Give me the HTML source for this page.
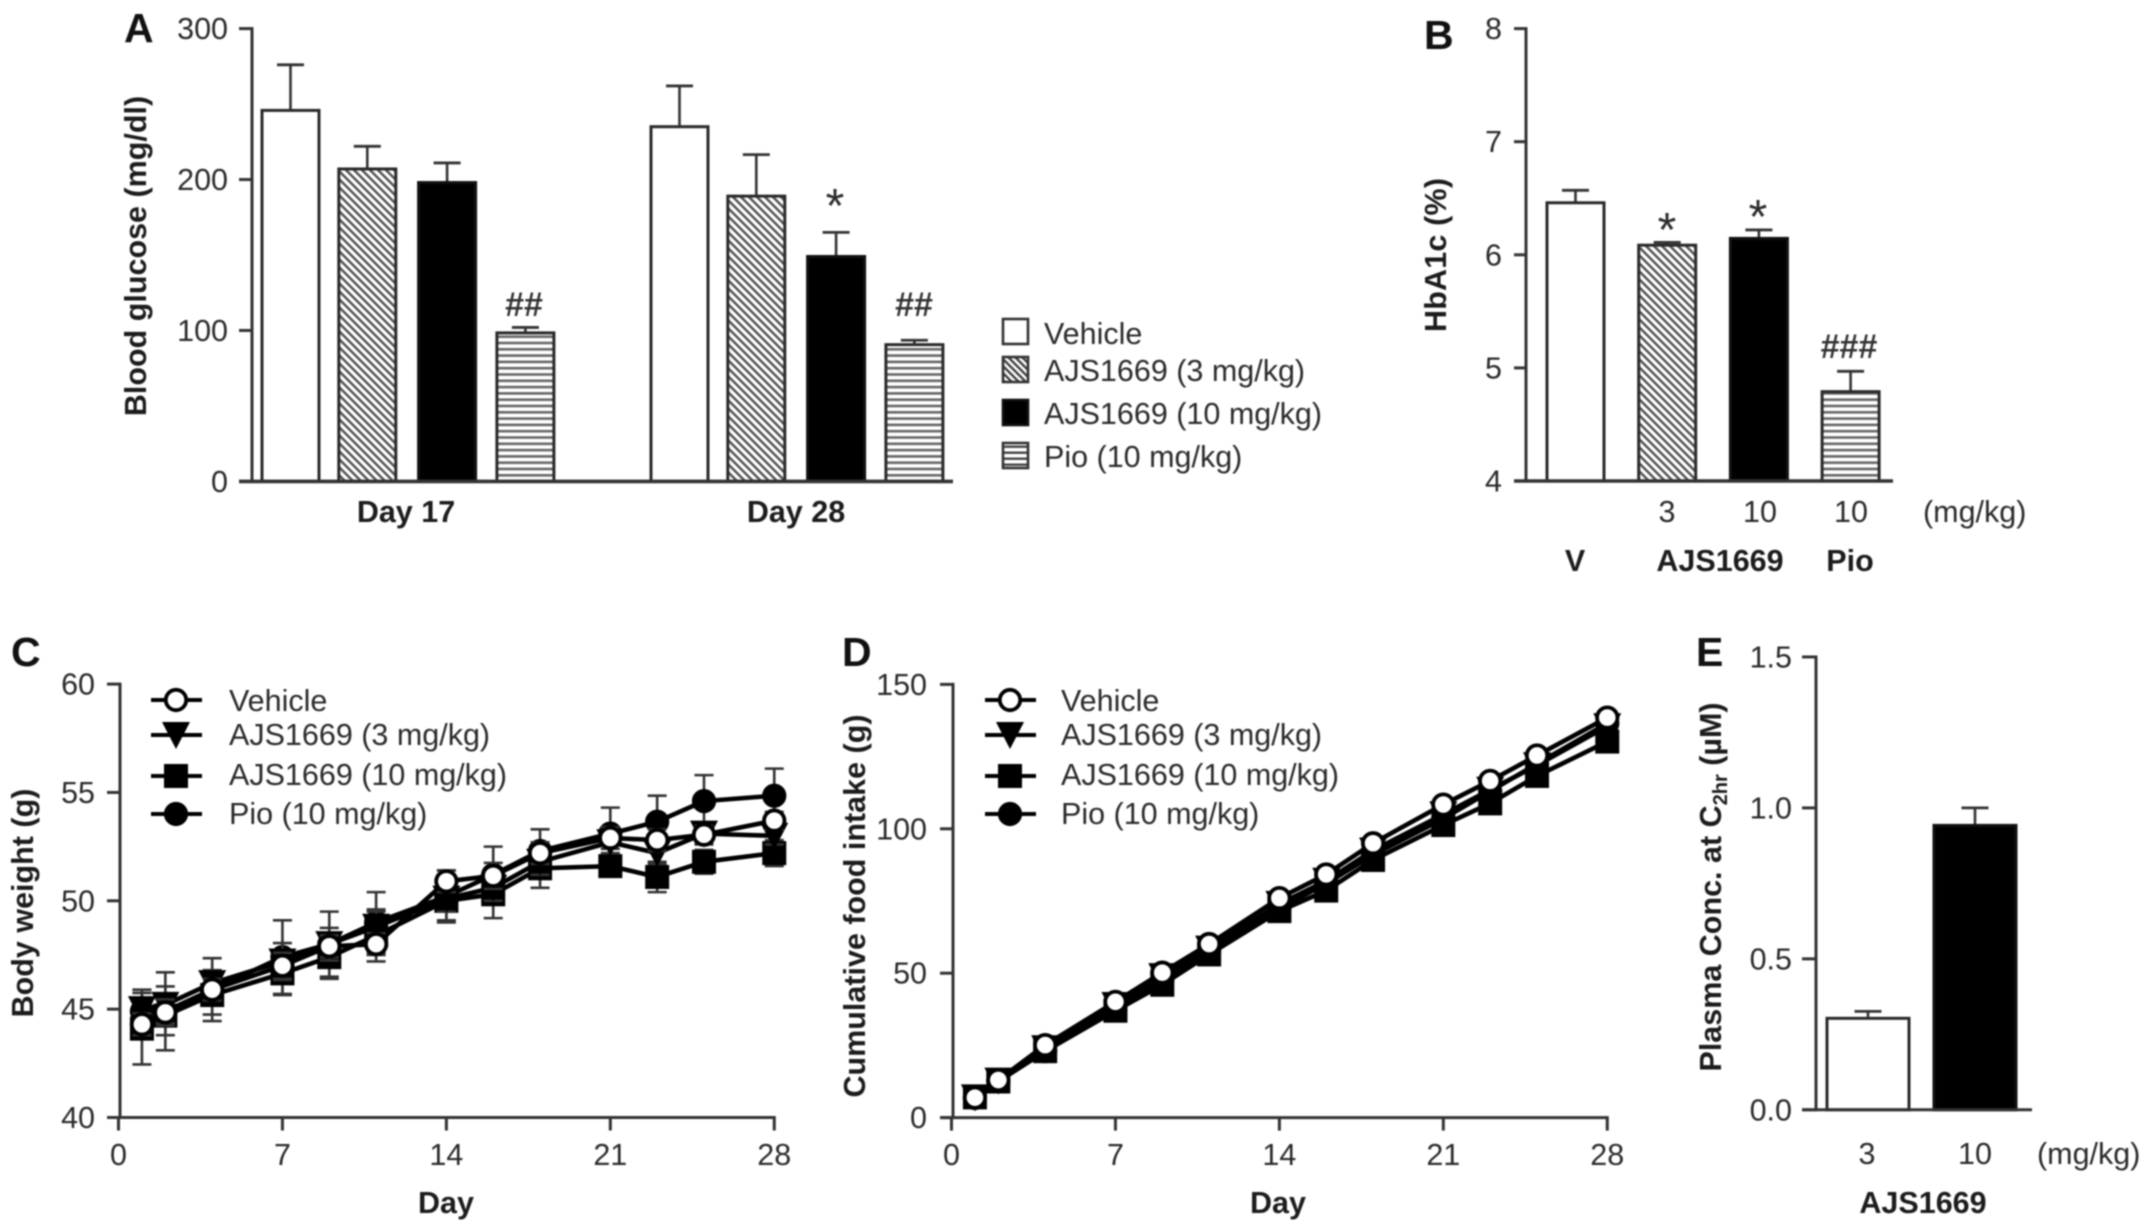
<!DOCTYPE html>
<html lang="en">
<head>
<meta charset="utf-8">
<title>AJS1669 study figure</title>
<style>
html,body{margin:0;padding:0;background:#fff;width:2150px;height:1232px;overflow:hidden}
svg{display:block;filter:blur(.7px)}
text{font-family:"Liberation Sans",sans-serif;font-size:30.5px;fill:#2b2b2b}
.b{font-weight:700;fill:#1c1c1c}
.letter{font-weight:700;font-size:41px;fill:#111}
.mark{font-size:34px;font-weight:700;fill:#333}
</style>
</head>
<body>
<svg id="fig" width="2150" height="1232" viewBox="0 0 2150 1232" xmlns="http://www.w3.org/2000/svg">
<defs>
<pattern id="diag" patternUnits="userSpaceOnUse" width="8" height="8">
<rect width="8" height="8" fill="#fff"/>
<path d="M-2,-2L10,10M-2,6L2,10M6,-2L10,2" stroke="#555" stroke-width="2.5"/>
</pattern>
<pattern id="horiz" patternUnits="userSpaceOnUse" width="6.3" height="6.3">
<rect width="6.3" height="6.3" fill="#fff"/>
<rect y="1.5" width="6.3" height="2.6" fill="#666"/>
</pattern>
<pattern id="diagL" patternUnits="userSpaceOnUse" width="7" height="7">
<rect width="7" height="7" fill="#fff"/>
<path d="M-2,-2L9,9M-2,5L2,9M5,-2L9,2" stroke="#444" stroke-width="2.4"/>
</pattern>
<pattern id="horizL" patternUnits="userSpaceOnUse" width="6" height="6">
<rect width="6" height="6" fill="#fff"/>
<rect y="1.5" width="6" height="2.4" fill="#444"/>
</pattern>
</defs>

<text class="letter" x="124" y="42">A</text>
<text class="letter" x="1424" y="49">B</text>
<text class="letter" x="11" y="666">C</text>
<text class="letter" x="842" y="666">D</text>
<text class="letter" x="1696" y="666">E</text>

<text class="b" transform="translate(146,256) rotate(-90)" text-anchor="middle">Blood glucose (mg/dl)</text>
<text class="b" x="406" y="522" text-anchor="middle">Day 17</text>
<text class="b" x="796" y="522" text-anchor="middle">Day 28</text>
<text class="mark" x="524" y="316" text-anchor="middle">##</text>
<text class="mark" x="914" y="316" text-anchor="middle">##</text>
<text x="835" y="222" text-anchor="middle" style="font-size:48px">*</text>

<g>
<rect x="1003" y="319" width="25" height="25" fill="#fff" stroke="#333" stroke-width="2.6"/>
<text x="1044" y="344">Vehicle</text>
<rect x="1003" y="357" width="25" height="25" fill="url(#diagL)" stroke="#333" stroke-width="2.6"/>
<text x="1044" y="381">AJS1669 (3 mg/kg)</text>
<rect x="1003" y="400" width="25" height="25" fill="#000" stroke="#111" stroke-width="2.6"/>
<text x="1044" y="424">AJS1669 (10 mg/kg)</text>
<rect x="1003" y="443" width="25" height="25" fill="url(#horizL)" stroke="#333" stroke-width="2.6"/>
<text x="1044" y="467">Pio (10 mg/kg)</text>
</g>

<text class="b" transform="translate(1446,255) rotate(-90)" text-anchor="middle" textLength="154">HbA1c (%)</text>
<text x="1667" y="522" text-anchor="middle">3</text>
<text x="1760" y="522" text-anchor="middle">10</text>
<text x="1851" y="522" text-anchor="middle">10</text>
<text x="1923" y="522">(mg/kg)</text>
<text class="b" x="1575" y="571" text-anchor="middle">V</text>
<text class="b" x="1720" y="571" text-anchor="middle">AJS1669</text>
<text class="b" x="1850" y="571" text-anchor="middle">Pio</text>
<text x="1667" y="246" text-anchor="middle" style="font-size:48px">*</text>
<text x="1758" y="233" text-anchor="middle" style="font-size:48px">*</text>
<text class="mark" x="1849" y="358" text-anchor="middle">###</text>

<text class="b" transform="translate(33,903) rotate(-90)" text-anchor="middle">Body weight (g)</text>
<text class="b" x="446" y="1213" text-anchor="middle">Day</text>
<text class="b" transform="translate(865,906) rotate(-90)" text-anchor="middle">Cumulative food intake (g)</text>
<text class="b" x="1278" y="1213" text-anchor="middle">Day</text>

<text x="229" y="711">Vehicle</text>
<text x="229" y="745">AJS1669 (3 mg/kg)</text>
<text x="229" y="785">AJS1669 (10 mg/kg)</text>
<text x="229" y="824">Pio (10 mg/kg)</text>
<text x="1061" y="711">Vehicle</text>
<text x="1061" y="745">AJS1669 (3 mg/kg)</text>
<text x="1061" y="785">AJS1669 (10 mg/kg)</text>
<text x="1061" y="824">Pio (10 mg/kg)</text>

<text class="b" transform="translate(1721,887) rotate(-90)" text-anchor="middle">Plasma Conc. at C<tspan dy="6" style="font-size:20px">2hr</tspan><tspan dy="-6"> (µM)</tspan></text>
<text x="1867" y="1164" text-anchor="middle">3</text>
<text x="1975" y="1164" text-anchor="middle">10</text>
<text x="2037" y="1164">(mg/kg)</text>
<text class="b" x="1923" y="1213" text-anchor="middle">AJS1669</text>
</svg>

<script>
// ---- Panel A data
const aGroups = ['Day 17', 'Day 28'];
const aTreatments = ['vehicle', '3mg', '10mg', 'pio'];
const aMeans = [[245.8, 207, 198, 98.4], [235, 189, 149, 90.6]];
const aUpper = [[276, 222, 211, 102], [262, 216.5, 165, 93.5]];
const aTicks = [0, 100, 200, 300];
// ---- Panel B data
const bTreatments = ['vehicle', '3mg', '10mg', 'pio'];
const bMeans = [6.46, 6.085, 6.145, 4.79];
const bUpper = [6.57, 6.11, 6.22, 4.97];
const bTicks = [4, 5, 6, 7, 8];
// ---- Panel C / D shared
const days = [1, 2, 4, 7, 9, 11, 14, 16, 18, 21, 23, 25, 28];
const dayTicks = [0, 7, 14, 21, 28];
// ---- Panel C data
const cTicks = [40, 45, 50, 55, 60];
const cPio = [44.9, 44.9, 45.9, 47.4, 48, 49, 50.2, 51.2, 52.3, 53.1, 53.65, 54.6, 54.85];
const cPioErr = [0.5, 1.8, 1.45, 1.7, 1.5, 1.4, 1.2, 1.3, 1, 1.2, 1.2, 1.2, 1.25];
const c10mg = [44.1, 44.7, 45.65, 46.65, 47.4, 48.4, 50, 50.3, 51.5, 51.6, 51.1, 51.8, 52.2];
const c10mgErr = [1.65, 0.9, 0.9, 1, 1, 1.2, 0.9, 1.1, 0.9, 0.4, 0.7, 0.55, 0.6];
const c3mg = [45, 45.2, 46.2, 47.2, 48, 48.8, 50.1, 50.6, 51.8, 52.7, 52.2, 53.1, 53];
const c3mgErr = [0.9, 0.85, 0.6, 0.85, 0.75, 0.7, 0.6, 0.6, 0.6, 0.5, 0.5, 0.5, 0.4];
const cVehicle = [44.3, 44.85, 45.9, 47, 47.9, 48, 50.9, 51.15, 52.2, 52.9, 52.8, 53.05, 53.7];
const cVehicleErr = [0.5, 0.6, 0.5, 0.6, 0.5, 0.5, 0.5, 0.6, 0.5, 0.5, 0.5, 0.4, 0.4];
// ---- Panel D data
const dTicks = [0, 50, 100, 150];
const dPio = [6.8, 12.6, 23, 37.5, 47.5, 57.5, 72.5, 81, 91, 103.5, 113, 122.5, 136.5];
const d10mg = [7, 12.5, 23, 37, 46, 56.5, 71.5, 78.6, 89.2, 101.3, 108.8, 118.3, 130.2];
const d3mg = [7, 12.8, 24, 39, 49, 58.5, 74, 82, 92.5, 105, 113.5, 122, 135.5];
const dVehicle = [6.9, 13, 25.1, 40.1, 50.2, 60.1, 76, 84.2, 95, 108.4, 116.6, 125.4, 138.5];
// ---- Panel E data
const eDoses = ['3mg', '10mg'];
const eMeans = [0.303, 0.942];
const eUpper = [0.326, 1.0];
const eTicks = ['0.0', '0.5', '1.0', '1.5'];

const NS = 'http://www.w3.org/2000/svg';
const fig = document.getElementById('fig');
const AXIS = '#333';
const fills = {vehicle: '#fff', '3mg': 'url(#diag)', '10mg': '#000', pio: 'url(#horiz)'};

function add(parent, tag, attrs) {
  const n = document.createElementNS(NS, tag);
  for (const k in attrs) n.setAttribute(k, attrs[k]);
  parent.appendChild(n);
  return n;
}
function group(name) {
  const g = add(fig, 'g', {});
  
  
  return g;
}
function line(parent, name, x1, y1, x2, y2, w, col) {
  const l = add(parent, 'line', {x1: x1, y1: y1, x2: x2, y2: y2, stroke: col || AXIS, 'stroke-width': w});
  
  
  return l;
}
function yAxis(g, prefix, ticks, yf, axisX, tickL, labelX) {
  const top = Math.min.apply(null, ticks.map(function (t) { return yf(parseFloat(t)); }));
  const bot = Math.max.apply(null, ticks.map(function (t) { return yf(parseFloat(t)); }));
  line(g, prefix + '-y-axis-line', axisX, top - 1.5, axisX, bot + 1.5, 3);
  ticks.forEach(function (t) {
    const y = yf(parseFloat(t));
    line(g, prefix + '-y-tick-' + t, tickL, y, axisX, y, 3);
    const lb = add(g, 'text', {x: labelX, y: y + 10.5, 'text-anchor': 'end'});
    
    
    lb.textContent = t;
  });
}
function bar(g, name, x, w, yTop, yBase, yErr, fill) {
  const cx = x + w / 2;
  line(g, name + '-error-stem', cx, yTop, cx, yErr, 2.6);
  line(g, name + '-error-cap', cx - 13.5, yErr, cx + 13.5, yErr, 2.8);
  const r = add(g, 'rect', {x: x, y: yTop, width: w, height: yBase - yTop, fill: fill, stroke: fill === '#000' ? '#111' : '#2a2a2a', 'stroke-width': 3});
  
  
}
function marker(g, name, kind, x, y) {
  let m;
  if (kind === 'circle-open' || kind === 'circle-fill') {
    m = add(g, 'circle', {cx: x, cy: y, r: 10.2, fill: kind === 'circle-open' ? '#fff' : '#000', stroke: '#000', 'stroke-width': 3.8});
  } else if (kind === 'square') {
    m = add(g, 'rect', {x: x - 12, y: y - 12, width: 24, height: 24, fill: '#000'});
  } else {
    m = add(g, 'polygon', {points: (x - 14) + ',' + (y - 13) + ' ' + (x + 14) + ',' + (y - 13) + ' ' + x + ',' + (y + 14), fill: '#000'});
  }
  
  
}
function series(g, name, kind, vals, errs, xf, yf) {
  const pl = add(g, 'polyline', {fill: 'none', stroke: '#000', 'stroke-width': 4.6, 'stroke-linejoin': 'round',
    points: vals.map(function (v, i) { return xf(days[i]) + ',' + yf(v); }).join(' ')});
  
  
  vals.forEach(function (v, i) {
    const x = xf(days[i]);
    if (errs) {
      const e = errs[i];
      line(g, name + '-error-stem-day-' + days[i], x, yf(v - e), x, yf(v + e), 2.6);
      line(g, name + '-error-cap-upper-day-' + days[i], x - 9.5, yf(v + e), x + 9.5, yf(v + e), 2.6);
      line(g, name + '-error-cap-lower-day-' + days[i], x - 9.5, yf(v - e), x + 9.5, yf(v - e), 2.6);
    }
    marker(g, name + '-point-day-' + days[i], kind, x, yf(v));
  });
}
function xAxisDays(g, prefix, xf, y0, x0) {
  line(g, prefix + '-x-axis-line', x0, y0, xf(28) + 1.5, y0, 3);
  dayTicks.forEach(function (d) {
    const x = xf(d);
    line(g, prefix + '-x-tick-' + d, x, y0, x, y0 + 13, 3);
    const lb = add(g, 'text', {x: x, y: 1165, 'text-anchor': 'middle'});
    
    
    lb.textContent = d;
  });
}
function lineLegend(g, prefix, cx) {
  const rows = [['vehicle', 'circle-open', 700], ['3mg', 'triangle', 735], ['10mg', 'square', 776], ['pio', 'circle-fill', 814]];
  rows.forEach(function (r) {
    line(g, prefix + '-legend-line-' + r[0], cx - 25, r[2], cx + 26, r[2], 4, '#000');
    marker(g, prefix + '-legend-marker-' + r[0], r[1], cx, r[2]);
  });
}

// Panel A
(function () {
  const g = group('panel-a-bar-chart');
  const yf = function (v) { return 481.4 - v * 452.8 / 300; };
  const xf = function (gi, i) { return 262 + gi * 389 + i * 78.3 - (i === 1 ? 1.5 : 0); };
  yAxis(g, 'panel-a', aTicks, yf, 252, 239, 228);
  aGroups.forEach(function (name, gi) {
    aTreatments.forEach(function (t, i) {
      bar(g, 'panel-a-bar-' + name.replace(' ', '').toLowerCase() + '-' + t, xf(gi, i), 57, yf(aMeans[gi][i]), yf(0), yf(aUpper[gi][i]), fills[t]);
    });
  });
  line(g, 'panel-a-x-axis-line', 239, yf(0), 953, yf(0), 3.6);
})();

// Panel B
(function () {
  const g = group('panel-b-bar-chart');
  const yf = function (v) { return 481 - (v - 4) * 113.1; };
  const xf = function (i) { return 1547 + i * 91.7; };
  yAxis(g, 'panel-b', bTicks, yf, 1526, 1514, 1502);
  bTreatments.forEach(function (t, i) {
    bar(g, 'panel-b-bar-' + t, xf(i), 57, yf(bMeans[i]), yf(4), yf(bUpper[i]), fills[t]);
  });
  line(g, 'panel-b-x-axis-line', 1514, yf(4), 1893, yf(4), 3.6);
})();

// Panel C
(function () {
  const g = group('panel-c-line-chart');
  const yf = function (v) { return 1117.5 - (v - 40) * 21.67; };
  const xf = function (d) { return 118.5 + 23.42 * d; };
  yAxis(g, 'panel-c', cTicks, yf, 120, 107, 95);
  xAxisDays(g, 'panel-c', xf, yf(40), 107);
  series(g, 'panel-c-series-pio', 'circle-fill', cPio, cPioErr, xf, yf);
  series(g, 'panel-c-series-10mg', 'square', c10mg, c10mgErr, xf, yf);
  series(g, 'panel-c-series-3mg', 'triangle', c3mg, c3mgErr, xf, yf);
  series(g, 'panel-c-series-vehicle', 'circle-open', cVehicle, cVehicleErr, xf, yf);
  lineLegend(g, 'panel-c', 176);
})();

// Panel D
(function () {
  const g = group('panel-d-line-chart');
  const yf = function (v) { return 1117.6 - v * 2.888; };
  const xf = function (d) { return 951.5 + 23.42 * d; };
  yAxis(g, 'panel-d', dTicks, yf, 953, 940, 927);
  xAxisDays(g, 'panel-d', xf, yf(0), 940);
  series(g, 'panel-d-series-pio', 'circle-fill', dPio, null, xf, yf);
  series(g, 'panel-d-series-10mg', 'square', d10mg, null, xf, yf);
  series(g, 'panel-d-series-3mg', 'triangle', d3mg, null, xf, yf);
  series(g, 'panel-d-series-vehicle', 'circle-open', dVehicle, null, xf, yf);
  lineLegend(g, 'panel-d', 1010);
})();

// Panel E
(function () {
  const g = group('panel-e-bar-chart');
  const yf = function (v) { return 1109.8 - v * 301.9; };
  const xf = function (i) { return 1827 + i * 107; };
  yAxis(g, 'panel-e', eTicks, yf, 1816, 1802, 1792);
  eDoses.forEach(function (t, i) {
    bar(g, 'panel-e-bar-' + t, xf(i), 82, yf(eMeans[i]), yf(0), yf(eUpper[i]), fills[t === '3mg' ? 'vehicle' : '10mg']);
  });
  line(g, 'panel-e-x-axis-line', 1802, yf(0), 2032, yf(0), 3);
})();
</script>
</body>
</html>
